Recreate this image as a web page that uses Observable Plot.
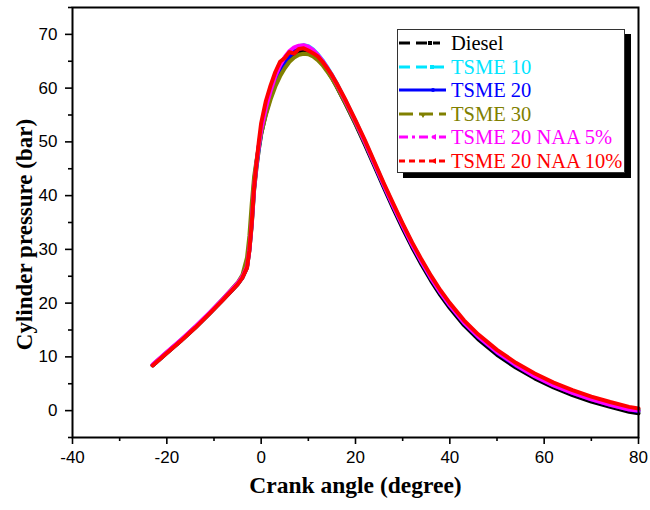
<!DOCTYPE html>
<html><head><meta charset="utf-8">
<script src="https://cdn.jsdelivr.net/npm/d3@7"></script>
<script src="https://cdn.jsdelivr.net/npm/@observablehq/plot@0.6"></script>
<style>
body{margin:0;background:#fff;}
#wrap{position:relative;width:650px;height:510px;}
#legend{position:absolute;left:397px;top:29px;width:228px;height:144px;border:1px solid #333;background:#fff;box-shadow:6px 5px 0 #000;font-family:"Liberation Serif","Times New Roman",serif;font-size:20.5px;box-sizing:border-box;}
.row{position:absolute;left:0;height:24px;display:flex;align-items:center;}
.row svg{display:block;}
.row span{position:absolute;left:53px;white-space:nowrap;line-height:24px;}
</style></head>
<body><div id="wrap"><div id="chart"></div><div id="legend"></div></div>
<script>
const series = ["Diesel","TSME 10","TSME 20","TSME 30","TSME 20 NAA 5%","TSME 20 NAA 10%"];
const colors = ["#000000","#00e5ff","#0000ff","#808000","#ff00ff","#ff0000"];
const crank = [-23,-20,-17,-14,-11,-8,-5,-4,-3,-2.5,-2,-1.5,-1,-0.5,0,1,2,3,4,5,6,7,8,9,10,11,12,13,14,15,16,18,20,22,24,26,28,30,32,34,36,38,40,43,46,50,54,58,62,66,70,74,78,80];
const diesel = [8.4,10.7,13.0,15.4,18.0,20.7,23.5,24.7,26.6,29.8,34.5,41.0,45.2,48.6,51.4,55.3,58.4,60.9,62.8,64.3,65.5,66.3,66.8,67.0,66.9,66.4,65.6,64.6,63.3,61.9,60.3,56.9,53.3,49.5,45.5,41.5,37.6,33.9,30.4,27.2,24.2,21.5,19.1,15.9,13.3,10.4,8.0,6.0,4.3,2.9,1.7,0.7,-0.2,-0.5];
const tsme10 = [8.5,10.8,13.1,15.5,18.1,20.8,23.6,24.8,26.8,30.2,35.2,41.8,45.8,49.0,51.8,55.8,58.9,61.5,63.5,65.1,66.4,67.3,67.8,68.0,67.8,67.2,66.3,65.2,63.9,62.5,60.9,57.5,53.9,50.1,46.1,42.1,38.3,34.6,31.1,27.9,24.9,22.2,19.8,16.6,14.0,11.1,8.7,6.7,5.0,3.6,2.4,1.4,0.5,0.2];
const tsme20 = [8.5,10.8,13.1,15.5,18.1,20.8,23.6,24.8,26.9,30.5,35.8,42.5,46.2,49.2,51.9,55.7,58.7,61.2,63.1,64.7,65.9,66.8,67.3,67.5,67.3,66.8,65.9,64.9,63.6,62.2,60.6,57.2,53.6,49.8,45.8,41.8,38.0,34.3,30.8,27.6,24.6,21.9,19.5,16.3,13.7,10.8,8.4,6.4,4.7,3.3,2.1,1.1,0.2,-0.1];
const tsme30 = [8.5,10.8,13.1,15.5,18.1,20.9,23.8,25.2,28.5,32.5,38.5,43.5,46.5,49.2,51.6,55.0,57.9,60.3,62.2,63.7,64.9,65.7,66.2,66.4,66.3,65.9,65.2,64.3,63.1,61.8,60.3,57.0,53.5,49.8,45.9,42.0,38.2,34.5,31.0,27.8,24.8,22.1,19.7,16.5,13.9,11.0,8.6,6.6,4.9,3.5,2.3,1.3,0.4,0.1];
const naa5 = [8.6,10.9,13.2,15.6,18.2,20.9,23.7,24.9,26.8,30.0,35.0,41.5,45.8,49.3,52.2,56.3,59.5,62.2,64.2,65.8,66.9,67.6,67.9,68.0,67.7,67.1,66.2,65.1,63.8,62.4,60.8,57.4,53.8,50.0,46.0,42.0,38.1,34.4,30.9,27.7,24.7,22.0,19.6,16.4,13.8,10.9,8.5,6.4,4.7,3.3,2.1,1.1,0.2,0.0];
const naa10 = [8.4,10.7,13.0,15.4,18.0,20.7,23.5,24.7,26.6,29.8,34.8,41.5,46.0,50.0,53.5,57.6,60.5,63.0,64.9,65.6,66.7,66.4,67.3,67.4,67.0,66.5,65.9,64.9,63.7,62.4,60.9,57.6,54.0,50.3,46.3,42.3,38.5,34.8,31.3,28.1,25.1,22.4,20.0,16.8,14.2,11.3,8.9,6.9,5.2,3.8,2.6,1.6,0.7,0.4];
const xMajor = [-40,-20,0,20,40,60,80];
const xMinor = [-30,-10,10,30,50,70];
const yMajor = [0,10,20,30,40,50,60,70];
const yMinor = [-5,5,15,25,35,45,55,65,75];

const allY = [diesel,tsme10,tsme20,tsme30,naa5,naa10];
const rows = [];
allY.forEach((arr,i)=>arr.forEach((v,j)=>rows.push({s:series[i],x:crank[j],y:v})));

const chart = Plot.plot({
  width:650, height:510,
  marginLeft:72, marginRight:12, marginTop:7, marginBottom:73,
  x:{domain:[-40,80]},
  y:{domain:[-5,75]},
  color:{domain:series, range:colors},
  style:{fontFamily:"Liberation Sans, Arial, sans-serif", color:"#000", background:"#fff"},
  marks:[
    Plot.line(rows,{x:"x",y:"y",z:"s",stroke:"s",strokeWidth:4,curve:"linear"}),
    Plot.frame({stroke:"#000",strokeWidth:2}),
    Plot.axisX({ticks:xMajor,tickSize:7,tickPadding:6,fontSize:17,strokeWidth:1.6,tickFormat:d=>String(d),label:null}),
    Plot.axisX({ticks:xMinor,tickSize:4,tickFormat:()=>"",strokeWidth:1.6,label:null}),
    Plot.axisY({ticks:yMajor,tickSize:7,tickPadding:8,fontSize:17,strokeWidth:1.6,tickFormat:d=>String(d),label:null}),
    Plot.axisY({ticks:yMinor,tickSize:4,tickFormat:()=>"",strokeWidth:1.6,label:null}),
    Plot.text(["Crank angle (degree)"],{frameAnchor:"bottom",textAnchor:"middle",dy:55,text:d=>d,fontSize:23.5,fontWeight:"bold",fontFamily:"Liberation Serif, Times New Roman, serif",fill:"#000"}),
    Plot.text(["Cylinder pressure (bar)"],{frameAnchor:"left",textAnchor:"middle",dx:-48,dy:12,rotate:-90,text:d=>d,fontSize:23,fontWeight:"bold",fontFamily:"Liberation Serif, Times New Roman, serif",fill:"#000"})
  ]
});
document.getElementById("chart").appendChild(chart);

// legend
const dashes = ["11,6,0,0","11,6","none","14,6","9,4,3,4","6,4"];
const markers = ["square","square","dot","tri-down","tri-left","tri-left"];
const lens = [42,46,48,48,48,48];
const leg = document.getElementById("legend");
series.forEach((s,i)=>{
  const r = document.createElement("div");
  r.className="row";
  r.style.top = (1 + i*23.6) + "px";
  const L = lens[i], c = colors[i], mid = L/2 + 1;
  let mk = "";
  if (markers[i]==="square") mk = `<rect x="${mid+8}" y="10" width="4" height="4" fill="${c}"/>`;
  else if (markers[i]==="dot") mk = `<circle cx="${mid+10}" cy="12" r="2" fill="${c}"/>`;
  else if (markers[i]==="tri-down") mk = `<path d="M${mid-3},11 L${mid+3},11 L${mid},16 Z" fill="${c}"/>`;
  else mk = `<path d="M${mid+8},12 L${mid+13},9 L${mid+13},15 Z" fill="${c}"/>`;
  r.innerHTML = `<svg width="52" height="24"><line x1="1" y1="12" x2="${L}" y2="12" stroke="${c}" stroke-width="3" ${dashes[i]==="none"?"":`stroke-dasharray="${dashes[i]}"`}/>${mk}</svg><span style="color:${c}">${s}</span>`;
  leg.appendChild(r);
});
</script></body></html>
